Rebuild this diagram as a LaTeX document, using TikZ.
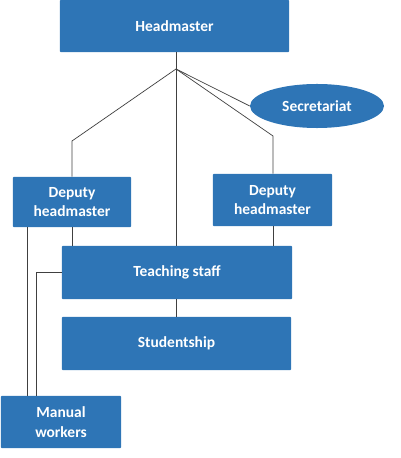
\documentclass[tikz,border=0pt]{standalone}
\usepackage{fontspec}
\setmainfont{Carlito}
\usetikzlibrary{positioning,shapes}
\definecolor{boxblue}{HTML}{2E75B6}
\definecolor{linegray}{HTML}{404040}

\begin{document}
\begin{tikzpicture}[x=0.025cm,y=-0.025cm,
  unit/.style={fill=boxblue,text=white,font=\fontsize{11}{14}\selectfont\bfseries,align=center,inner sep=0pt,rounded corners=0.5pt},
  link/.style={draw=linegray,line width=0.5pt}]
\useasboundingbox (0,0) rectangle (400,458);
%%%%%%%%%%%%%%%%
\node[unit,minimum width=5.725cm,minimum height=1.3cm] (head) at (174.5,26) {Headmaster};
\node[unit,ellipse,minimum width=3.35cm,minimum height=1.1cm] (sec) at (317,106) {Secretariat};
%%%%%%%%%%%%%%%%
\node[unit,minimum width=2.95cm,minimum height=1.25cm] (depL) at (72,202) {Deputy\\headmaster};
\node[unit,minimum width=2.975cm,minimum height=1.3cm] (depR) at (272.5,200) {Deputy\\headmaster};
%%%%%%%%%%%%%%%%
\node[unit,minimum width=5.75cm,minimum height=1.325cm] (teach) at (177,272.5) {Teaching staff};
\node[unit,minimum width=5.725cm,minimum height=1.325cm] (stud) at (176.5,343.5) {Studentship};
\node[unit,minimum width=3cm,minimum height=1.3cm] (man) at (61,422) {Manual\\workers};
%%%%%%%%%%%%%%%%
\coordinate (hub) at (176,69);
\coordinate (bendL) at (72,141);
\coordinate (bendR) at (273,136);
\coordinate (manA) at (27,396);
\coordinate (manB) at (36,396);
%%%%%%%%%%%%%%%%
\draw[link] (head.south -| hub) -- (hub);
\draw[link] (hub) -- (bendL) -- (depL.north);
\draw[link] (hub) -- (bendR) -- (bendR |- depR.north);
\draw[link] (hub) -- (hub |- teach.north);
\draw[link] (hub) -- (sec.west);
\draw[link] (depL.south) -- (depL.south |- teach.north);
\draw[link] (bendR |- depR.south) -- (bendR |- teach.north);
\draw[link] (teach.south -| hub) -- (stud.north -| hub);
\draw[link] (manA |- depL.south) -- (manA);
\draw[link] (teach.west) -| (manB);
\end{tikzpicture}
\end{document}
